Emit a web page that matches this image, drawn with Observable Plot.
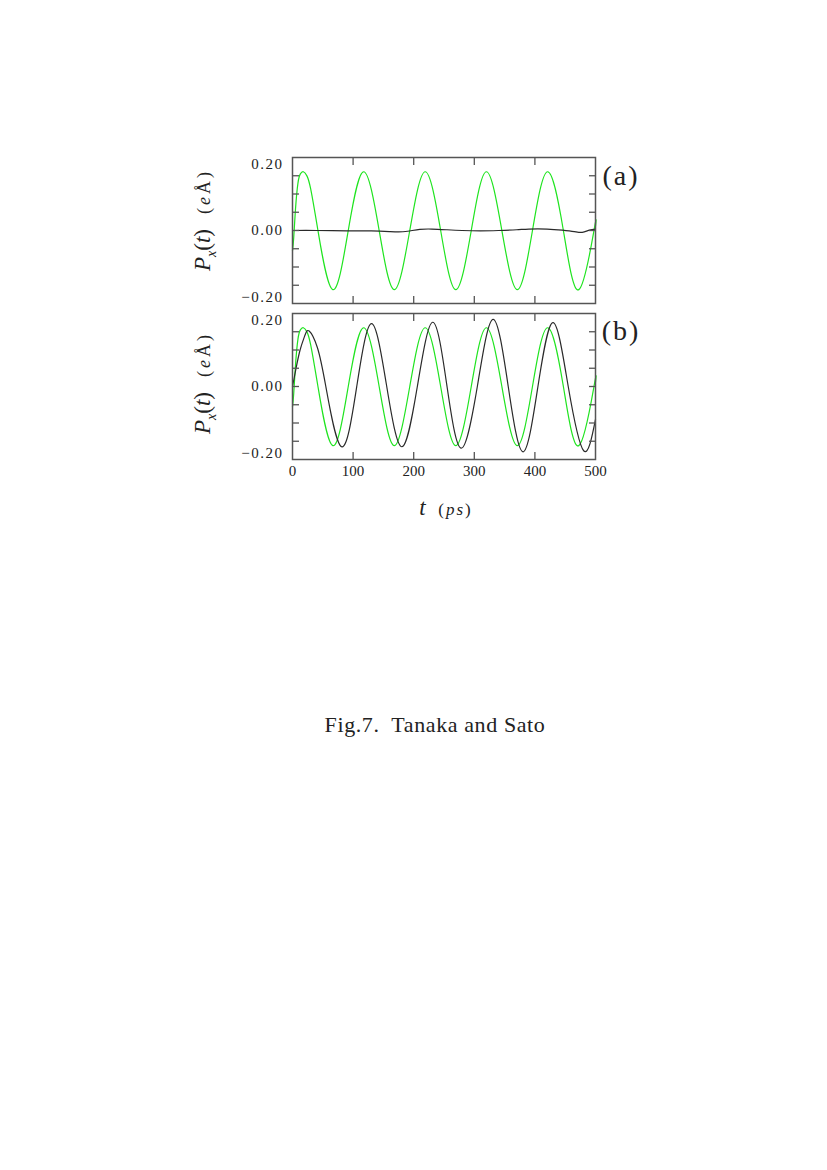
<!DOCTYPE html>
<html>
<head>
<meta charset="utf-8">
<script src="https://cdn.jsdelivr.net/npm/d3@7"></script>
<script src="https://cdn.jsdelivr.net/npm/@observablehq/plot@0.6"></script>
<style>
  body { margin: 0; background: #fff; }
  #page { position: relative; width: 827px; height: 1170px; background: #fff; overflow: hidden;
          font-family: "Liberation Serif", "DejaVu Serif", serif; color: #222; }
  .abs { position: absolute; white-space: nowrap; line-height: 1; }
  .panel { position: absolute; left: 0; }
  .ytitle { transform: translate(-50%, -50%) rotate(-90deg); }
  .ctr { transform: translate(-50%, -50%); }
  [aria-label="y-axis tick label"] text { letter-spacing: 1.5px; }
</style>
</head>
<body>
<div id="page"></div>
<script>
// ---- data ----
// green curve (same in both panels)
const greenT = [0, 2, 5, 9, 13, 18, 24, 30, 42, 66.5, 92, 117.5, 143, 168, 193.5, 219, 244.5, 269.5, 295, 320, 345.5, 371, 396, 421, 447, 472.5, 497.5, 500];
const greenV = [-0.055, -0.02, 0.06, 0.13, 0.155, 0.161, 0.149, 0.114, 0, -0.162, 0, 0.161, 0, -0.162, 0, 0.161, 0, -0.162, 0, 0.161, 0, -0.162, 0, 0.161, 0, -0.162, 0, 0.012];
// black curve, panel (a)
const blackAT = [0, 40, 90, 130, 160, 175, 190, 210, 230, 255, 280, 310, 340, 370, 390, 420, 445, 465, 478, 490, 500];
const blackAV = [0, 0, -0.001, -0.001, -0.003, -0.004, -0.002, 0.003, 0.004, 0.002, 0, -0.001, 0, 0.002, 0.004, 0.004, 0.001, -0.003, -0.005, 0.001, 0.004];
// black curve, panel (b)
const blackBT = [0, 5.5, 12.5, 20, 27.5, 41, 55, 81, 106, 130.5, 155.5, 180.5, 206, 231.5, 255, 278.5, 305, 331, 356, 380.5, 405, 430, 455, 480.5, 500];
const blackBV = [0, 0.047, 0.10, 0.138, 0.152, 0.107, 0, -0.165, 0, 0.172, 0, -0.165, 0, 0.176, 0, -0.169, 0, 0.184, 0, -0.179, 0, 0.175, 0, -0.176, -0.09];

const xMinorTicks = [100, 200, 300, 400];
const xTickLabels = [0, 100, 200, 300, 400, 500];
const yMinorTicks = [0.15, 0.10, 0.05, 0, -0.05, -0.10, -0.15];
const yTopLabel = [0.20];
const yMidLabel = [0.00];
const yBotLabel = [-0.20];
const panelLabels = ["(a)", "(b)"];
const caption = "Fig.7.\u00a0 Tanaka and Sato";

// ---- build ----
const pts = (T, V) => T.map((t, i) => ({t, v: V[i]}));
const green = pts(greenT, greenV);
const blackA = pts(blackAT, blackAV);
const blackB = pts(blackBT, blackBV);
const fmt = d3.format(".2f");
const frameColor = "#555";
const greenColor = "#1fe41f";
const blackColor = "#2a2a2a";

function panel(black, {top, marginTop, marginBottom, bottomLabels}) {
  const marks = [
    Plot.line(green, {x: "t", y: "v", stroke: greenColor, strokeWidth: 1.2, curve: "natural"}),
    Plot.line(black, {x: "t", y: "v", stroke: blackColor, strokeWidth: 1.2, curve: "natural"}),
    Plot.frame({stroke: frameColor, strokeWidth: 1.5}),
    Plot.axisY(yMinorTicks, {anchor: "left", tickSize: 7, dx: 7, tickFormat: () => "", label: null, stroke: frameColor, strokeWidth: 1.3}),
    Plot.axisY(yMinorTicks, {anchor: "right", tickSize: 7, dx: -7, tickFormat: () => "", label: null, stroke: frameColor, strokeWidth: 1.3}),
    Plot.axisX(xMinorTicks, {anchor: "top", tickSize: 7, dy: 7, tickFormat: () => "", label: null, stroke: frameColor, strokeWidth: 1.3}),
    Plot.axisX(xMinorTicks, {anchor: "bottom", tickSize: 7, dy: -7, tickFormat: () => "", label: null, stroke: frameColor, strokeWidth: 1.3}),
    Plot.axisY(yTopLabel, {anchor: "left", tickSize: 0, tickPadding: 9, dy: 7, tickFormat: fmt, label: null}),
    Plot.axisY(yMidLabel, {anchor: "left", tickSize: 0, tickPadding: 9, tickFormat: fmt, label: null}),
    Plot.axisY(yBotLabel, {anchor: "left", tickSize: 0, tickPadding: 9, dy: -6, tickFormat: fmt, label: null})
  ];
  if (bottomLabels) {
    marks.push(Plot.axisX(xTickLabels, {anchor: "bottom", tickSize: 0, tickPadding: 6, tickFormat: d => String(d), label: null}));
  }
  const svg = Plot.plot({
    width: 827,
    height: marginTop + 146 + marginBottom,
    marginLeft: 292,
    marginRight: 232,
    marginTop,
    marginBottom,
    x: {domain: [0, 500]},
    y: {domain: [-0.2, 0.2]},
    style: {fontFamily: '"Liberation Serif", serif', fontSize: "15px", color: "#222", background: "transparent", overflow: "visible"},
    marks
  });
  const div = document.createElement("div");
  div.className = "panel";
  div.style.top = top + "px";
  div.appendChild(svg);
  return div;
}

const page = document.getElementById("page");
page.appendChild(panel(blackA, {top: 0, marginTop: 157, marginBottom: 7, bottomLabels: false}));
page.appendChild(panel(blackB, {top: 303, marginTop: 10, marginBottom: 30, bottomLabels: true}));

function addText(html, cls, x, y, style) {
  const d = document.createElement("div");
  d.className = "abs " + cls;
  d.style.left = x + "px";
  d.style.top = y + "px";
  Object.assign(d.style, style || {});
  d.innerHTML = html;
  page.appendChild(d);
}

// panel labels
addText(panelLabels[0], "ctr", 621, 176, {fontSize: "28px", letterSpacing: "2px"});
addText(panelLabels[1], "ctr", 621, 331, {fontSize: "28px", letterSpacing: "2px"});

// y titles
const yTitle = '<span style="font-size:23px"><i>P</i><sub style="font-size:14px"><i>x</i></sub>(<i>t</i>)</span>' +
               '<span style="font-size:18px;letter-spacing:3px">&nbsp;&nbsp;(<i>e</i>Å)</span>';
addText(yTitle, "ytitle", 205, 220, {});
addText(yTitle, "ytitle", 205, 383, {});

// x title
addText('<i style="font-size:23px">t</i><span style="font-size:17px;letter-spacing:2px">&nbsp;&nbsp;(<i>ps</i>)</span>', "ctr", 446, 507, {});

// caption
addText(caption, "ctr", 435, 725, {fontSize: "22px", letterSpacing: "0.6px"});
</script>
</body>
</html>
